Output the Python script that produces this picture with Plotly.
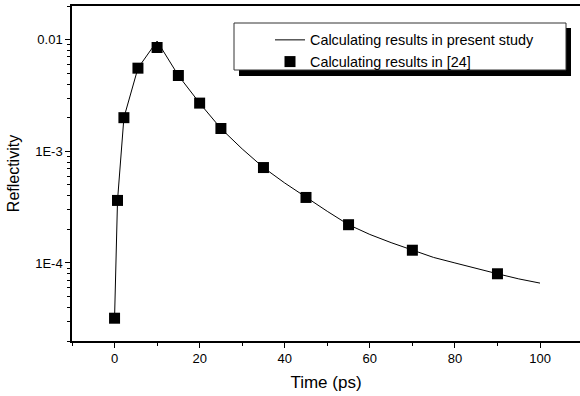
import plotly.graph_objects as go
import numpy as np

# Reference data (markers): "Calculating results in [24]"
ref_time = [0, 0.7, 2.2, 5.5, 10, 15, 20, 25, 35, 45, 55, 70, 90]
ref_refl = [3.2e-5, 3.63e-4, 2.0e-3, 5.55e-3, 8.5e-3, 4.77e-3, 2.7e-3, 1.6e-3,
            7.15e-4, 3.86e-4, 2.2e-4, 1.3e-4, 8.0e-5]

# Present study (line)
line_time = [0, 0.7, 2.2, 5.5, 10, 15, 20, 25, 30, 35, 40, 45, 50, 55, 60, 65,
             70, 75, 80, 85, 90, 95, 100]
line_refl = [3.2e-5, 3.63e-4, 2.0e-3, 5.55e-3, 9.7e-3, 4.77e-3, 2.7e-3, 1.6e-3,
             1.05e-3, 7.15e-4, 5.2e-4, 3.86e-4, 2.9e-4, 2.2e-4, 1.8e-4, 1.52e-4,
             1.3e-4, 1.12e-4, 1.0e-4, 8.9e-5, 8.0e-5, 7.2e-5, 6.6e-5]

y_major = [1e-4, 1e-3, 1e-2]
y_major_text = ["1E-4", "1E-3", "0.01"]
y_minor = [m * 10.0 ** e for e in (-5, -4, -3, -2) for m in range(2, 10)]

FONT = "Liberation Sans, Arial, sans-serif"

fig = go.Figure()
fig.add_trace(go.Scatter(
    x=line_time, y=line_refl, mode="lines",
    line=dict(color="black", width=1),
    name="Calculating results in present study",
))
fig.add_trace(go.Scatter(
    x=ref_time, y=ref_refl, mode="markers",
    marker=dict(symbol="square", size=11, color="black"),
    name="Calculating results in [24]",
))

# legend frame + shadow (pixel -> paper conversion)
L, T, W, H = 72, 6, 508, 335
def px(x):
    return (x - L) / W
def py(y):
    return (T + H - y) / H

fig.add_shape(type="rect", xref="paper", yref="paper",
              x0=px(239), x1=px(571), y0=py(76), y1=py(28),
              fillcolor="black", line=dict(width=0), layer="above")
fig.add_shape(type="rect", xref="paper", yref="paper",
              x0=px(234), x1=px(566), y0=py(70), y1=py(23),
              fillcolor="white", line=dict(color="#333", width=1), layer="above")

fig.update_layout(
    width=580, height=396,
    margin=dict(l=L, r=0, t=T, b=396 - T - H),
    paper_bgcolor="white", plot_bgcolor="white",
    font=dict(family=FONT, color="black"),
    showlegend=True,
    legend=dict(
        x=px(270), y=py(24), xanchor="left", yanchor="top",
        bgcolor="rgba(0,0,0,0)", borderwidth=0,
        font=dict(size=14.4, family=FONT),
        tracegroupgap=0,
    ),
    xaxis=dict(
        range=[-10, 109.4],
        tickmode="array", tickvals=[0, 20, 40, 60, 80, 100],
        ticks="outside", ticklen=5, tickwidth=1, tickcolor="black",
        minor=dict(tickmode="array", tickvals=[-10, 10, 30, 50, 70, 90],
                   ticks="outside", ticklen=3, tickwidth=1, tickcolor="black"),
        showline=True, linecolor="black", linewidth=1.5, mirror=True,
        showgrid=False, zeroline=False,
        tickfont=dict(size=13, family=FONT),
        title=dict(text="Time (ps)", font=dict(size=17, family=FONT), standoff=11),
    ),
    yaxis=dict(
        type="log",
        range=[np.log10(2e-5), np.log10(2e-2)],
        tickmode="array", tickvals=y_major, ticktext=y_major_text,
        ticks="outside", ticklen=5, tickwidth=1, tickcolor="black",
        minor=dict(tickmode="array", tickvals=y_minor,
                   ticks="outside", ticklen=3, tickwidth=1, tickcolor="black"),
        showline=True, linecolor="black", linewidth=1.5, mirror=False,
        showgrid=False, zeroline=False,
        tickfont=dict(size=13, family=FONT),
        title=dict(text="Reflectivity", font=dict(size=16, family=FONT), standoff=12),
    ),
)

fig.write_html("out.html")
